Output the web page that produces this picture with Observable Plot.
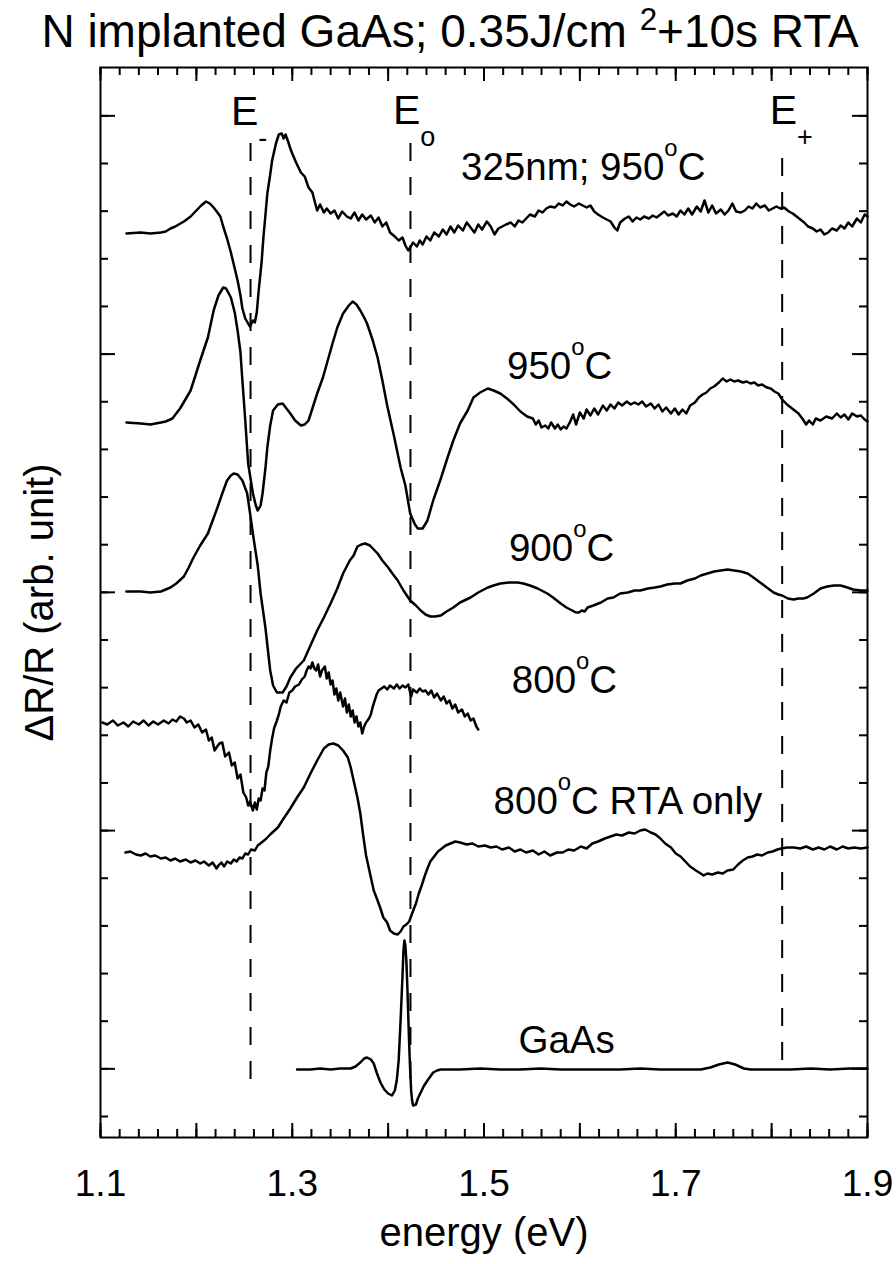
<!DOCTYPE html>
<html><head><meta charset="utf-8">
<script src="https://cdn.jsdelivr.net/npm/d3@7"></script>
<script src="https://cdn.jsdelivr.net/npm/@observablehq/plot@0.6"></script>
<style>
body{margin:0;background:#fff;font-family:"Liberation Sans",Arial,sans-serif;color:#000;}
#title{height:62px;width:900px;text-align:center;font-size:46px;line-height:62px;white-space:nowrap;}
#title .sup{font-size:0.68em;position:relative;top:-0.55em;}
</style></head><body>
<div id="title">N implanted GaAs; 0.35J/cm <span class="sup">2</span>+10s RTA</div>
<div id="chart"></div>
<script>
// axis set-up values
const xDomain = [1.1, 1.9];
const yDomain = [-2.1, 104.9];
const xLabelTicks = [1.1, 1.3, 1.5, 1.7, 1.9];
const yTickStep = 4.765;

// critical points (eV) for dashed markers
const criticalPoints = [
  {e: 1.2565, y1: 3.7, y2: 97.3},
  {e: 1.4233, y1: 3.7, y2: 97.8},
  {e: 1.811,  y1: 5.6, y2: 95.9}
];
const criticalLabels = [
  {e: 1.236, v: 99.2, t: "E{_-}"},
  {e: 1.405, v: 99.3, t: "E{_o}"},
  {e: 1.798, v: 99.3, t: "E{_+}"}
];
const curveLabels = [
  {e: 1.476, v: 93.7, t: "325nm; 950{^o}C"},
  {e: 1.524, v: 73.8, t: "950{^o}C"},
  {e: 1.526, v: 55.6, t: "900{^o}C"},
  {e: 1.529, v: 42.4, t: "800{^o}C"},
  {e: 1.510, v: 30.3, t: "800{^o}C RTA only"},
  {e: 1.536, v: 6.4,  t: "GaAs"}
];

// spectra: [energy (eV), ΔR/R (arb., offset)]
const s325nm950 = [[1.127,88.3],[1.142,88.4],[1.152,88.3],[1.163,88.4],[1.168,88.5],[1.173,88.8],[1.178,89.0],[1.187,89.5],[1.194,90.0],[1.201,90.7],[1.205,91.1],[1.210,91.5],[1.214,91.3],[1.218,90.9],[1.222,90.4],[1.225,90.0],[1.228,89.0],[1.232,87.8],[1.236,86.4],[1.240,84.8],[1.243,83.6],[1.246,82.1],[1.248,80.8],[1.251,79.8],[1.254,79.3],[1.256,79.0],[1.259,79.6],[1.261,79.4],[1.263,80.4],[1.265,82.6],[1.268,85.4],[1.270,88.0],[1.272,90.1],[1.274,92.3],[1.277,94.2],[1.279,95.6],[1.283,97.3],[1.286,98.2],[1.289,98.3],[1.291,97.8],[1.293,98.2],[1.296,97.4],[1.298,96.8],[1.300,96.3],[1.304,95.4],[1.309,94.4],[1.313,94.0],[1.317,92.9],[1.321,92.4],[1.324,91.3],[1.326,90.6],[1.329,91.2],[1.333,90.4],[1.336,90.8],[1.340,90.3],[1.344,90.6],[1.348,89.8],[1.352,90.5],[1.357,90.0],[1.361,89.8],[1.365,90.4],[1.369,89.6],[1.373,90.2],[1.377,89.7],[1.382,90.1],[1.386,89.4],[1.390,89.9],[1.394,89.0],[1.398,89.4],[1.402,88.4],[1.407,88.0],[1.411,87.6],[1.415,87.9],[1.418,87.1],[1.421,86.6],[1.423,86.9],[1.426,87.4],[1.430,87.0],[1.433,87.6],[1.436,87.2],[1.440,88.0],[1.444,87.6],[1.448,88.4],[1.453,88.0],[1.457,88.7],[1.461,88.2],[1.465,89.0],[1.469,88.4],[1.473,89.1],[1.478,88.6],[1.482,89.4],[1.486,88.9],[1.490,88.4],[1.494,89.2],[1.498,88.7],[1.503,89.5],[1.507,89.0],[1.511,88.2],[1.515,88.8],[1.519,89.0],[1.523,89.2],[1.528,89.4],[1.532,89.0],[1.536,89.6],[1.540,89.4],[1.544,89.8],[1.548,90.2],[1.553,90.0],[1.557,90.6],[1.561,90.4],[1.565,90.8],[1.569,91.0],[1.574,90.9],[1.578,91.3],[1.582,91.1],[1.586,91.5],[1.590,91.2],[1.594,91.0],[1.599,91.3],[1.603,91.1],[1.607,90.9],[1.611,91.1],[1.615,90.5],[1.619,90.2],[1.624,89.9],[1.628,89.7],[1.632,89.5],[1.636,88.9],[1.639,88.6],[1.642,89.4],[1.647,89.8],[1.651,90.0],[1.655,89.5],[1.659,89.9],[1.663,89.7],[1.667,90.0],[1.672,89.8],[1.676,90.1],[1.680,89.9],[1.684,90.2],[1.688,90.5],[1.692,90.1],[1.697,90.3],[1.701,90.0],[1.705,90.6],[1.709,90.2],[1.713,90.8],[1.717,90.2],[1.722,91.0],[1.726,90.5],[1.730,91.6],[1.734,90.4],[1.738,91.1],[1.742,90.3],[1.747,90.7],[1.751,90.2],[1.755,90.6],[1.759,91.3],[1.763,90.5],[1.768,90.4],[1.772,90.6],[1.776,91.0],[1.780,90.8],[1.784,91.3],[1.788,90.9],[1.793,91.1],[1.797,90.6],[1.801,90.8],[1.805,91.0],[1.809,90.8],[1.813,90.9],[1.818,90.5],[1.822,90.3],[1.826,90.0],[1.830,89.7],[1.834,89.4],[1.838,89.0],[1.843,88.8],[1.847,88.5],[1.851,88.7],[1.855,88.2],[1.859,88.4],[1.863,88.8],[1.868,88.6],[1.872,89.1],[1.876,88.8],[1.880,89.4],[1.884,89.0],[1.889,89.8],[1.893,89.4],[1.897,90.2],[1.900,90.0]];

const s950 = [[1.127,69.4],[1.142,69.3],[1.152,69.2],[1.163,69.4],[1.168,69.5],[1.175,69.8],[1.183,70.8],[1.194,72.6],[1.204,75.6],[1.212,77.9],[1.218,80.6],[1.223,82.1],[1.228,82.9],[1.231,82.8],[1.236,81.9],[1.240,80.4],[1.243,78.6],[1.246,76.4],[1.248,73.6],[1.251,69.6],[1.254,65.3],[1.259,62.3],[1.262,61.1],[1.264,60.6],[1.267,61.1],[1.269,62.3],[1.272,64.8],[1.274,66.9],[1.277,69.1],[1.280,70.6],[1.285,71.2],[1.290,71.3],[1.294,70.8],[1.298,70.3],[1.303,69.6],[1.309,69.1],[1.313,69.2],[1.317,69.6],[1.321,70.8],[1.326,72.3],[1.332,73.9],[1.337,75.6],[1.342,77.3],[1.347,78.9],[1.353,80.3],[1.359,81.1],[1.363,81.5],[1.367,81.2],[1.371,80.6],[1.375,79.9],[1.378,79.3],[1.384,77.6],[1.389,75.9],[1.394,73.6],[1.399,71.1],[1.406,68.1],[1.413,64.9],[1.418,63.1],[1.423,60.3],[1.428,59.2],[1.431,58.8],[1.436,58.8],[1.441,59.6],[1.447,61.6],[1.455,63.8],[1.462,65.9],[1.468,67.6],[1.475,69.3],[1.483,70.6],[1.489,71.9],[1.496,72.4],[1.504,72.8],[1.510,72.6],[1.517,72.3],[1.524,71.8],[1.531,71.2],[1.538,70.5],[1.545,70.0],[1.551,69.8],[1.554,69.2],[1.557,69.6],[1.560,68.9],[1.564,69.1],[1.567,68.8],[1.570,69.4],[1.574,68.8],[1.577,69.2],[1.580,68.7],[1.583,69.0],[1.586,68.8],[1.590,69.5],[1.593,70.2],[1.596,69.2],[1.600,70.4],[1.604,69.8],[1.607,70.7],[1.611,70.1],[1.615,70.8],[1.619,70.2],[1.624,71.1],[1.628,70.6],[1.632,71.2],[1.636,70.8],[1.640,71.4],[1.644,71.1],[1.649,71.5],[1.653,71.2],[1.657,71.4],[1.661,71.2],[1.665,71.5],[1.669,71.0],[1.674,71.3],[1.678,70.8],[1.682,71.2],[1.686,70.5],[1.690,70.9],[1.695,70.3],[1.699,70.8],[1.703,70.2],[1.707,70.7],[1.711,70.3],[1.715,71.1],[1.720,71.4],[1.724,71.9],[1.728,72.2],[1.732,72.4],[1.736,72.8],[1.740,73.0],[1.745,73.4],[1.749,73.8],[1.753,73.5],[1.757,73.7],[1.761,73.5],[1.765,73.6],[1.770,73.4],[1.774,73.5],[1.778,73.3],[1.782,73.4],[1.786,73.1],[1.790,73.2],[1.795,72.9],[1.799,72.8],[1.803,72.5],[1.807,72.3],[1.811,71.7],[1.816,71.2],[1.820,70.9],[1.824,70.6],[1.828,70.3],[1.832,69.8],[1.836,69.2],[1.839,69.6],[1.843,69.2],[1.846,69.8],[1.851,69.6],[1.857,70.0],[1.863,69.8],[1.868,70.3],[1.872,69.9],[1.876,70.2],[1.880,69.7],[1.884,70.3],[1.889,70.0],[1.893,70.1],[1.897,69.7],[1.900,69.5]];

const s900 = [[1.127,52.5],[1.142,52.5],[1.152,52.4],[1.163,52.5],[1.173,52.9],[1.179,53.3],[1.187,54.0],[1.192,54.9],[1.197,55.9],[1.204,57.1],[1.212,58.3],[1.217,59.6],[1.222,60.9],[1.227,62.3],[1.232,63.6],[1.236,64.1],[1.239,64.3],[1.243,64.2],[1.248,63.6],[1.253,62.3],[1.256,60.3],[1.260,57.6],[1.264,55.1],[1.267,52.3],[1.272,48.9],[1.277,44.6],[1.280,43.1],[1.284,42.4],[1.290,42.4],[1.294,43.0],[1.298,43.9],[1.304,44.8],[1.312,45.6],[1.319,47.1],[1.326,48.6],[1.333,49.9],[1.340,51.3],[1.347,52.8],[1.353,54.3],[1.360,55.6],[1.364,56.1],[1.368,57.0],[1.372,57.2],[1.376,57.3],[1.381,57.1],[1.385,56.7],[1.389,56.3],[1.394,55.6],[1.400,54.9],[1.406,54.1],[1.410,53.6],[1.416,52.6],[1.423,51.6],[1.429,51.1],[1.434,50.6],[1.439,50.2],[1.444,50.0],[1.449,50.0],[1.455,50.1],[1.461,50.5],[1.468,50.9],[1.475,51.4],[1.486,51.9],[1.494,52.4],[1.504,52.9],[1.510,53.1],[1.517,53.3],[1.526,53.4],[1.535,53.4],[1.541,53.3],[1.548,53.1],[1.556,52.8],[1.566,52.3],[1.572,51.9],[1.580,51.3],[1.586,50.9],[1.592,50.6],[1.596,50.4],[1.599,50.4],[1.602,50.6],[1.605,50.5],[1.608,50.9],[1.614,51.1],[1.622,51.4],[1.629,51.8],[1.635,51.9],[1.642,52.3],[1.650,52.4],[1.657,52.6],[1.663,52.6],[1.671,52.8],[1.678,52.9],[1.684,53.0],[1.691,53.2],[1.699,53.3],[1.705,53.3],[1.712,53.6],[1.720,53.8],[1.726,54.1],[1.733,54.3],[1.740,54.5],[1.747,54.6],[1.754,54.7],[1.761,54.6],[1.768,54.5],[1.775,54.3],[1.781,53.9],[1.788,53.4],[1.795,52.9],[1.802,52.4],[1.807,52.2],[1.811,52.1],[1.817,51.8],[1.823,51.7],[1.828,51.8],[1.833,51.8],[1.837,51.9],[1.844,52.3],[1.851,52.8],[1.858,53.0],[1.865,53.1],[1.872,53.1],[1.879,52.9],[1.885,52.7],[1.893,52.6],[1.900,52.6]];

const s800 = [[1.102,39.4],[1.107,39.2],[1.113,39.6],[1.118,39.1],[1.124,39.4],[1.129,39.0],[1.134,39.5],[1.140,39.2],[1.145,39.6],[1.150,39.1],[1.155,39.5],[1.160,39.2],[1.166,39.6],[1.171,39.3],[1.175,39.7],[1.179,39.5],[1.183,40.0],[1.187,39.8],[1.190,39.4],[1.194,39.6],[1.198,38.9],[1.202,39.2],[1.206,38.4],[1.210,38.7],[1.213,37.6],[1.216,37.9],[1.219,36.6],[1.221,36.9],[1.224,37.3],[1.227,37.4],[1.230,36.0],[1.234,36.4],[1.237,35.1],[1.240,35.4],[1.243,33.8],[1.246,34.2],[1.249,32.4],[1.252,31.9],[1.254,31.1],[1.256,31.5],[1.259,30.6],[1.261,31.4],[1.263,30.7],[1.265,31.8],[1.267,31.6],[1.269,32.8],[1.271,32.6],[1.273,34.4],[1.275,35.0],[1.277,36.6],[1.279,37.8],[1.281,38.8],[1.284,39.6],[1.286,40.2],[1.288,41.0],[1.291,41.6],[1.294,41.4],[1.297,42.4],[1.300,42.6],[1.303,43.0],[1.307,43.2],[1.310,43.7],[1.313,44.0],[1.315,44.6],[1.317,45.0],[1.319,44.8],[1.321,45.4],[1.323,44.8],[1.325,44.6],[1.327,45.2],[1.329,44.0],[1.331,44.6],[1.334,45.0],[1.336,43.8],[1.338,44.4],[1.340,43.2],[1.342,43.6],[1.344,42.2],[1.346,42.8],[1.348,41.6],[1.350,42.4],[1.353,41.0],[1.355,41.8],[1.357,40.4],[1.359,41.2],[1.361,40.0],[1.363,40.6],[1.365,39.4],[1.367,40.0],[1.369,39.0],[1.371,39.4],[1.373,38.3],[1.375,39.0],[1.377,39.4],[1.380,39.8],[1.382,40.2],[1.384,41.0],[1.386,41.6],[1.388,42.2],[1.390,42.6],[1.393,42.8],[1.396,43.0],[1.399,42.7],[1.402,43.1],[1.406,42.8],[1.409,43.2],[1.412,42.8],[1.415,43.1],[1.418,42.9],[1.421,43.2],[1.424,42.0],[1.426,42.7],[1.430,42.4],[1.433,42.8],[1.436,42.5],[1.439,42.6],[1.442,42.2],[1.445,42.6],[1.448,41.9],[1.451,42.3],[1.455,41.6],[1.458,42.0],[1.461,41.3],[1.464,41.6],[1.467,40.8],[1.470,41.2],[1.473,40.4],[1.477,40.7],[1.480,40.0],[1.483,40.3],[1.486,39.6],[1.489,39.8],[1.492,39.0],[1.494,38.7]];

const s800RtaOnly = [[1.126,26.4],[1.131,26.5],[1.137,26.2],[1.142,26.1],[1.147,26.3],[1.152,26.0],[1.157,26.1],[1.163,25.8],[1.168,25.9],[1.173,25.6],[1.178,25.8],[1.183,25.5],[1.189,25.7],[1.194,25.4],[1.199,25.6],[1.204,25.3],[1.208,25.5],[1.213,25.1],[1.217,25.4],[1.221,24.8],[1.223,25.1],[1.226,25.4],[1.229,25.0],[1.232,25.5],[1.236,25.3],[1.239,25.7],[1.242,25.5],[1.245,25.9],[1.248,25.8],[1.251,26.3],[1.254,26.2],[1.257,26.7],[1.261,26.6],[1.264,27.1],[1.268,27.4],[1.272,27.7],[1.277,28.2],[1.285,28.9],[1.291,29.8],[1.298,30.8],[1.305,31.9],[1.312,32.9],[1.319,34.3],[1.326,35.6],[1.333,36.8],[1.338,37.2],[1.343,37.3],[1.348,37.1],[1.353,36.6],[1.358,35.9],[1.361,34.9],[1.364,33.6],[1.368,31.9],[1.371,30.3],[1.374,28.1],[1.377,26.1],[1.382,23.9],[1.385,22.6],[1.389,21.6],[1.392,20.8],[1.395,19.9],[1.399,19.4],[1.402,18.6],[1.406,18.3],[1.410,18.2],[1.413,18.5],[1.416,19.0],[1.419,19.2],[1.422,19.5],[1.425,20.3],[1.429,21.3],[1.432,22.3],[1.435,23.1],[1.438,24.0],[1.441,24.8],[1.444,25.5],[1.448,26.0],[1.452,26.5],[1.456,26.8],[1.460,27.1],[1.465,27.3],[1.470,27.5],[1.475,27.4],[1.482,27.2],[1.488,27.3],[1.494,27.0],[1.501,27.1],[1.507,26.9],[1.513,27.0],[1.519,26.7],[1.526,26.9],[1.532,26.5],[1.538,26.7],[1.544,26.4],[1.551,26.6],[1.557,26.2],[1.563,26.5],[1.569,26.1],[1.576,26.4],[1.582,26.4],[1.588,26.7],[1.594,26.6],[1.601,27.0],[1.607,26.8],[1.613,27.3],[1.619,27.5],[1.626,27.8],[1.632,28.0],[1.638,28.2],[1.644,28.1],[1.651,28.4],[1.657,28.3],[1.663,28.6],[1.668,28.7],[1.674,28.4],[1.679,28.2],[1.684,27.8],[1.689,27.3],[1.695,26.9],[1.700,26.3],[1.705,26.0],[1.710,25.5],[1.715,25.0],[1.721,24.6],[1.726,24.3],[1.729,24.1],[1.733,24.3],[1.738,24.2],[1.744,24.4],[1.749,24.3],[1.754,24.6],[1.760,24.7],[1.765,25.2],[1.770,25.6],[1.775,25.9],[1.780,26.0],[1.785,26.2],[1.790,26.1],[1.796,26.4],[1.801,26.5],[1.806,26.7],[1.810,26.8],[1.816,26.9],[1.823,26.9],[1.830,26.8],[1.836,27.0],[1.843,26.7],[1.849,26.9],[1.855,26.7],[1.861,27.0],[1.868,26.7],[1.874,27.0],[1.880,26.8],[1.886,26.9],[1.893,26.8],[1.900,26.9]];

const sGaAs = [[1.305,4.7],[1.319,4.7],[1.329,4.8],[1.340,4.7],[1.350,4.8],[1.361,4.8],[1.366,5.0],[1.371,5.4],[1.375,5.8],[1.378,5.9],[1.382,5.7],[1.385,5.3],[1.388,4.4],[1.392,3.4],[1.396,2.7],[1.400,2.3],[1.404,2.1],[1.407,2.6],[1.409,3.6],[1.411,5.6],[1.413,9.6],[1.415,14.1],[1.416,16.6],[1.417,17.6],[1.418,17.1],[1.419,15.6],[1.420,13.1],[1.421,10.1],[1.422,7.1],[1.423,4.6],[1.424,2.6],[1.425,1.6],[1.426,1.1],[1.429,1.2],[1.431,1.8],[1.434,2.4],[1.437,3.0],[1.441,3.6],[1.444,4.0],[1.447,4.4],[1.451,4.6],[1.455,4.7],[1.475,4.7],[1.496,4.8],[1.517,4.7],[1.538,4.7],[1.559,4.8],[1.580,4.7],[1.601,4.7],[1.622,4.7],[1.642,4.7],[1.663,4.8],[1.684,4.7],[1.705,4.7],[1.726,4.7],[1.736,4.9],[1.745,5.2],[1.754,5.4],[1.762,5.2],[1.771,4.8],[1.778,4.7],[1.799,4.7],[1.820,4.7],[1.841,4.8],[1.861,4.7],[1.882,4.8],[1.900,4.8]];

const spectra = [s325nm950, s950, s900, s800, s800RtaOnly, sGaAs];

// ---- chart ----
const W = 896, H = 1202;
const mL = 100, mR = 29, mT = 5, mB = 127;
const iW = W - mL - mR, iH = H - mT - mB;

const xMinor = d3.range(0, 41).map(i => +(xDomain[0] + i * 0.02).toFixed(2));
const xMajor = d3.range(0, 9).map(i => +(xDomain[0] + i * 0.1).toFixed(1));
const yMinor = d3.range(0, 22).map(k => k * yTickStep);
const yMajor = [1, 6, 11, 16, 21].map(k => k * yTickStep);

const marks = [
  // ticks, inward
  Plot.ruleX(xMinor, {x: d => d, insetBottom: iH - 8, strokeWidth: 2}),
  Plot.ruleX(xMajor, {x: d => d, insetBottom: iH - 14, strokeWidth: 2}),
  Plot.ruleX(xMinor, {x: d => d, insetTop: iH - 8, strokeWidth: 2}),
  Plot.ruleX(xMajor, {x: d => d, insetTop: iH - 14, strokeWidth: 2}),
  Plot.ruleY(yMinor, {y: d => d, insetRight: iW - 8, strokeWidth: 2}),
  Plot.ruleY(yMajor, {y: d => d, insetRight: iW - 15, strokeWidth: 2}),
  Plot.ruleY(yMinor, {y: d => d, insetLeft: iW - 8, strokeWidth: 2}),
  Plot.ruleY(yMajor, {y: d => d, insetLeft: iW - 15, strokeWidth: 2}),
  Plot.frame({strokeWidth: 2}),
  Plot.ruleX(criticalPoints, {x: "e", y1: "y1", y2: "y2", strokeWidth: 2, strokeDasharray: "18,16"}),
  ...spectra.map(s => Plot.line(s, {x: d => d[0], y: d => d[1], strokeWidth: 2.5, strokeLinejoin: "round"})),
  Plot.text(curveLabels, {x: "e", y: "v", text: "t", textAnchor: "start", lineAnchor: "bottom", fontSize: 38.5}),
  Plot.text(criticalLabels, {x: "e", y: "v", text: "t", textAnchor: "start", lineAnchor: "bottom", fontSize: 41}),
  Plot.text(xLabelTicks, {x: d => d, text: d => d.toFixed(1), frameAnchor: "bottom", dy: 58, textAnchor: "middle", lineAnchor: "bottom", fontSize: 37}),
  Plot.text(["energy (eV)"], {text: d => d, frameAnchor: "bottom", dy: 108, textAnchor: "middle", lineAnchor: "bottom", fontSize: 40}),
  Plot.text(["ΔR/R (arb. unit)"], {text: d => d, frameAnchor: "left", dx: -60, rotate: -90, textAnchor: "middle", lineAnchor: "middle", fontSize: 40})
];

const chart = Plot.plot({
  width: W, height: H,
  marginLeft: mL, marginRight: mR, marginTop: mT, marginBottom: mB,
  x: {domain: xDomain, axis: null},
  y: {domain: yDomain, axis: null},
  style: {fontFamily: '"Liberation Sans", Arial, sans-serif', background: "white", color: "black", overflow: "visible"},
  marks
});
document.getElementById("chart").appendChild(chart);

// super/subscript markup: {^x} and {_x}
const NS = "http://www.w3.org/2000/svg";
chart.querySelectorAll("text").forEach(t => {
  const s = t.textContent;
  if (!/\{[_^]/.test(s)) return;
  const fs = parseFloat(getComputedStyle(t).fontSize);
  while (t.firstChild) t.removeChild(t.firstChild);
  const re = /\{([_^])([^}]*)\}/g;
  let last = 0, cur = 0, m;
  const add = (txt, size, target) => {
    const ts = document.createElementNS(NS, "tspan");
    ts.textContent = txt;
    if (size) ts.setAttribute("font-size", size);
    const dy = target - cur;
    if (dy) ts.setAttribute("dy", dy);
    cur = target;
    t.appendChild(ts);
  };
  while ((m = re.exec(s))) {
    if (m.index > last) add(s.slice(last, m.index), null, 0);
    if (m[1] === "^") add(m[2], 0.62 * fs, -0.6 * fs);
    else add(m[2], 0.66 * fs, 0.54 * fs);
    last = re.lastIndex;
  }
  if (last < s.length) add(s.slice(last), null, 0);
});
</script></body></html>
